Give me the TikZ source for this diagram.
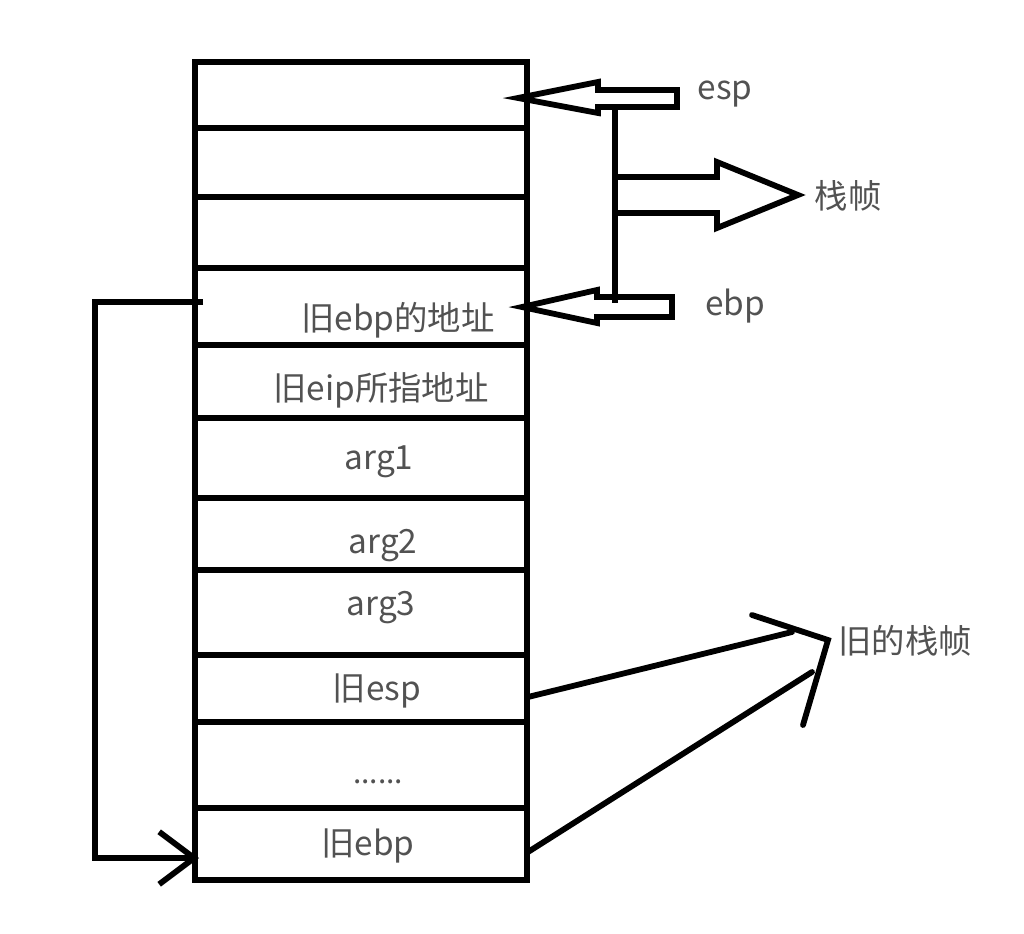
\documentclass[tikz,border=0pt]{standalone}
\usepackage{fontspec}
\setmainfont{Noto Sans CJK SC}
\usepackage{tikz}
\usetikzlibrary{arrows.meta, positioning, calc}

\begin{document}
\begin{tikzpicture}[
  x=0.02cm, y=-0.02cm,
  font=\fontsize{19}{22}\selectfont,
  trait/.style={
    line width=3.3pt,
    draw=black,
    line join=miter
  },
  texte/.style={
    text=black!68,
    inner sep=1pt,
    anchor=center
  },
  fleche/.style={
    trait,
    -{Straight Barb[length=0.7cm, width=1.05cm]}
  }
]
\useasboundingbox (0,0) rectangle (1024,933);

% Pile
\draw[trait] (195,62) rectangle (527,880);
\foreach \ligne in {128,197,268,345,418,498,570,655,722,808}
  \draw[trait] (195,\ligne) -- (527,\ligne);

% Contenu des cases
\node[texte] (vieuxebp) at (398,320) {旧ebp的地址};
\node[texte] (vieuxeip) at (381,390) {旧eip所指地址};
\node[texte] (arg1) at (379,462) {arg1};
\node[texte] (arg2) at (383,546) {arg2};
\node[texte] (arg3) at (381,608) {arg3};
\node[texte] (vieuxesp) at (377,691) {旧esp};
\node[texte, font=\fontsize{17}{20}\selectfont] (points) at (378,782) {......};
\node[texte] (basebp) at (368,846) {旧ebp};

% Etiquettes
\node[texte] (esp) at (725,94) {esp};
\node[texte] (ebp) at (735,306) {ebp};
\node[texte] (cadre) at (848,196) {栈帧};
\node[texte] (ancien) at (905,641) {旧的栈帧};

% Fleches creuses
\draw[trait] (518,98) -- (598,82) -- (598,90) -- (677,90) -- (677,107)
  -- (598,107) -- (598,113) -- cycle;
\draw[trait] (522,307) -- (597,290) -- (597,297) -- (672,297) -- (672,317)
  -- (597,317) -- (597,323) -- cycle;
\draw[trait] (615,108) -- (615,303);
\draw[trait] (615,177) -- (717,177) -- (717,162) -- (798,195) -- (717,228)
  -- (717,213) -- (615,213);

% Lien vers l'ancien ebp
\draw[fleche] (203,302) -- (95,302) -- (95,858) -- (199,858);

% Ancien cadre
\coordinate (pointe) at (828,640);
\draw[trait, line cap=round] (528,697) -- (792,632);
\draw[trait, line cap=round] (528,852) -- (812,672);
\draw[trait, line cap=round] (752,615) -- (pointe) -- (803,725);

\end{tikzpicture}
\end{document}
